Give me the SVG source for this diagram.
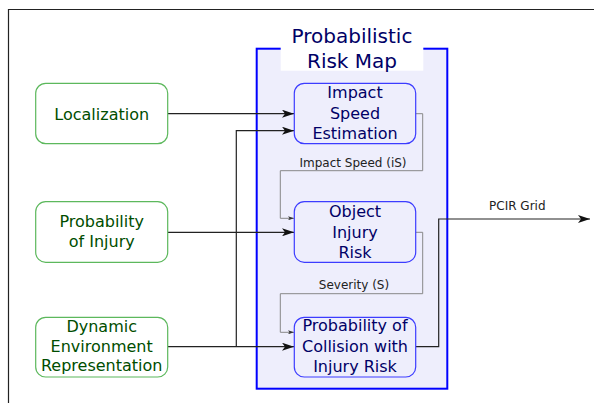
<svg xmlns="http://www.w3.org/2000/svg" width="594" height="403" viewBox="0 0 594 403">
<defs>
<style>
.t{font-family:"DejaVu Sans",sans-serif;text-anchor:middle}
.g{fill:#fff;stroke:#5cb85c;stroke-width:1.2}
.gt{fill:#004d00;font-size:16px}
.b{fill:#eeeefc;stroke:#3c3cff;stroke-width:1.2}
.bt{fill:#000066;font-size:16px}
.c{fill:none;stroke:#222;stroke-width:1.2}
.s{fill:none;stroke:#888;stroke-width:1}
.lbl{fill:#222;font-size:12px}
</style>
<marker id="ah" viewBox="0 0 12 8" refX="12" refY="4" markerWidth="12" markerHeight="8" markerUnits="userSpaceOnUse" orient="auto">
<path d="M0,0 L12,4 L0,8 L3,4 Z" fill="#111"/>
</marker>
<marker id="sa" viewBox="0 0 6 4" refX="6" refY="2" markerWidth="6" markerHeight="4" markerUnits="userSpaceOnUse" orient="auto">
<path d="M0,0 L6,2 L0,4 L1.5,2 Z" fill="#333"/>
</marker>
</defs>
<rect x="0" y="0" width="594" height="403" fill="#fff"/>
<path d="M8.5,403 V9.5 H594" fill="none" stroke="#222" stroke-width="1.2"/>
<g id="risk-map">
<rect x="256.7" y="48.7" width="190.6" height="340" fill="#eeeefc" stroke="#0000ff" stroke-width="2"/>
<rect x="280.7" y="44" width="142.6" height="26.7" fill="#fff"/>
<text class="t" x="352" y="42.7" font-size="20" fill="#000066">Probabilistic</text>
<text class="t" x="352" y="68.3" font-size="20" fill="#000066">Risk Map</text>
</g>
<g id="connectors">
<path class="c" d="M168,113.7 H294" marker-end="url(#ah)"/>
<path class="c" d="M168,232.3 H294" marker-end="url(#ah)"/>
<path class="c" d="M168,346.7 H294" marker-end="url(#ah)"/>
<path class="c" d="M236.3,346.7 V130.7 H294" marker-end="url(#ah)"/>
<path class="s" d="M415.7,113.7 H422.7 V170.7 H280.3 V218.3 H294" marker-end="url(#sa)"/>
<path class="s" d="M415.7,232.3 H422.7 V293.7 H280.3 V332.3 H294" marker-end="url(#sa)"/>
<path class="c" d="M415.7,346.7 H438.7 V219 H590" marker-end="url(#ah)" stroke="#444"/>
<text class="t lbl" x="353" y="166.5">Impact Speed (iS)</text>
<text class="t lbl" x="354" y="289.3">Severity (S)</text>
<text class="t lbl" x="517.3" y="210">PCIR Grid</text>
</g>
<g id="localization">
<rect class="g" x="35.7" y="83.3" width="132" height="60.4" rx="10"/>
<text class="t gt" x="101.7" y="119.7">Localization</text>
</g>
<g id="probability-of-injury">
<rect class="g" x="35.7" y="201.7" width="132" height="60.6" rx="10"/>
<text class="t gt" x="101.7" y="226.7">Probability</text>
<text class="t gt" x="101.7" y="246.7">of Injury</text>
</g>
<g id="dynamic-environment">
<rect class="g" x="35.7" y="317.3" width="132" height="59.7" rx="10"/>
<text class="t gt" x="101.7" y="331.7">Dynamic</text>
<text class="t gt" x="101.7" y="351.7">Environment</text>
<text class="t gt" x="101.7" y="371.3">Representation</text>
</g>
<g id="impact-speed-estimation">
<rect class="b" x="294.3" y="83.3" width="121.4" height="60.4" rx="10"/>
<text class="t bt" x="355" y="98.3">Impact</text>
<text class="t bt" x="355" y="119">Speed</text>
<text class="t bt" x="355" y="139.3">Estimation</text>
</g>
<g id="object-injury-risk">
<rect class="b" x="294.3" y="201.7" width="121.4" height="60.6" rx="10"/>
<text class="t bt" x="355" y="217.3">Object</text>
<text class="t bt" x="355" y="238.3">Injury</text>
<text class="t bt" x="355" y="258.3">Risk</text>
</g>
<g id="pcir">
<rect class="b" x="294.3" y="317.3" width="121.4" height="59.7" rx="10"/>
<text class="t bt" x="355" y="331">Probability of</text>
<text class="t bt" x="355" y="351.7">Collision with</text>
<text class="t bt" x="355" y="371.7">Injury Risk</text>
</g>
</svg>
